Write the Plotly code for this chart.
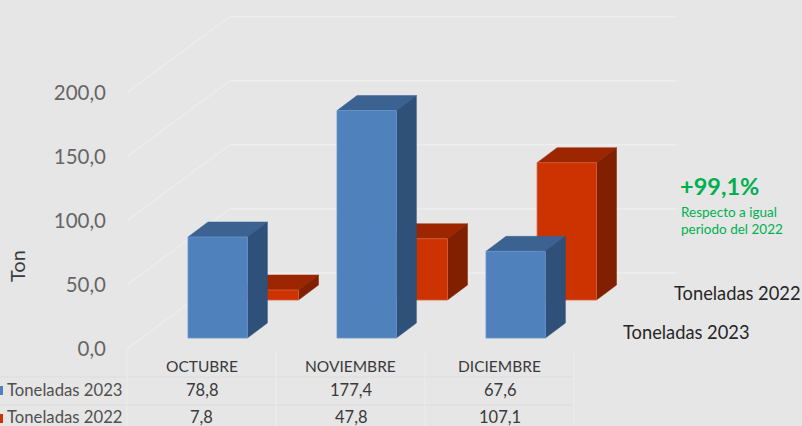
import plotly.graph_objects as go

months = ["OCTUBRE", "NOVIEMBRE", "DICIEMBRE"]
series_2023 = [78.8, 177.4, 67.6]
series_2022 = [7.8, 47.8, 107.1]
label_2023 = "Toneladas 2023"
label_2022 = "Toneladas 2022"
y_ticks = [0, 50, 100, 150, 200]
y_tick_text = ["0,0", "50,0", "100,0", "150,0", "200,0"]
table_2023 = ["78,8", "177,4", "67,6"]
table_2022 = ["7,8", "47,8", "107,1"]

W, H = 802, 426
PX = 1.282            # pixels per ton
FLOOR = 349           # pixel row of value 0 at the front of the floor
BG = "#e6e6e6"


def py(p):
    """pixel row -> value on the y axis"""
    return (FLOOR - p) / PX


def dv(p):
    return p / PX


col_center = [201.5, 350.5, 499.5]
BAR_W = 59.4
DX, DY = 20, 15

styles = {
    "2022": dict(front="#cc3300", top="#9c2600", side="#802000", edge="#d9603a", shift=67.3, floor=300),
    "2023": dict(front="#4f81bd", top="#3b6290", side="#2f5078", edge="#6a96cb", shift=16.2, floor=338),
}

fig = go.Figure()


def add_series(values, st, name):
    base = py(st["floor"])
    xs = [c + st["shift"] for c in col_center]
    for c, v in zip(xs, values):
        l, r = c - BAR_W / 2, c + BAR_W / 2
        t = base + v
        fig.add_trace(go.Scatter(x=[l, l + DX, r + DX, r, l],
                                 y=[t, t + dv(DY), t + dv(DY), t, t],
                                 fill="toself", fillcolor=st["top"], mode="lines",
                                 line=dict(color=st["top"], width=0.5), showlegend=False, hoverinfo="skip"))
        fig.add_trace(go.Scatter(x=[r, r + DX, r + DX, r, r],
                                 y=[t, t + dv(DY), base + dv(DY), base, t],
                                 fill="toself", fillcolor=st["side"], mode="lines",
                                 line=dict(color=st["side"], width=0.5), showlegend=False, hoverinfo="skip"))
        fig.add_trace(go.Scatter(x=[l, r, r, l, l], y=[base, base, t, t, base],
                                 fill="toself", fillcolor=st["front"], mode="lines", name=name,
                                 line=dict(color=st["edge"], width=0.8), showlegend=False))


add_series(series_2022, styles["2022"], label_2022)
add_series(series_2023, styles["2023"], label_2023)

shapes = []
BACK_DX, BACK_DY = 103, 76
WALL_L, WALL_R = 127, 677
for v in y_ticks:
    shapes.append(dict(type="line", layer="below", x0=WALL_L, x1=WALL_L + BACK_DX, y0=v, y1=v + dv(BACK_DY),
                       line=dict(color="#eeeeee", width=1.2)))
    shapes.append(dict(type="line", layer="below", x0=WALL_L + BACK_DX, x1=WALL_R,
                       y0=v + dv(BACK_DY), y1=v + dv(BACK_DY), line=dict(color="#eeeeee", width=1.5)))

# table rules
for p in (377, 405):
    shapes.append(dict(type="line", layer="below", x0=0, x1=574, y0=py(p), y1=py(p),
                       line=dict(color="#dcdcdc", width=1)))
for x in (127, 276, 425, 574):
    shapes.append(dict(type="line", layer="below", x0=x, x1=x, y0=py(350), y1=py(426),
                       line=dict(color="#ececec", width=1)))
# legend keys
shapes.append(dict(type="rect", x0=0, x1=3, y0=py(386), y1=py(395), line_width=0, fillcolor=styles["2023"]["front"]))
shapes.append(dict(type="rect", x0=0, x1=3, y0=py(414), y1=py(423), line_width=0, fillcolor=styles["2022"]["front"]))

ann = []


def txt(x, p, s, size, color, anchor="center", **kw):
    ann.append(dict(x=x, y=py(p), text=s, showarrow=False, xanchor=anchor, yanchor="middle",
                    font=dict(family="Lato", size=size, color=color), **kw))


TC = "#3a3a3a"
for c, m, a, b in zip(col_center, months, table_2023, table_2022):
    txt(c, 366, m, 15.5, TC)
    txt(c, 390, a, 16.5, TC)
    txt(c, 417, b, 16.5, TC)
txt(5, 390, label_2023, 16.7, "#505050", "left")
txt(5, 417, label_2022, 16.7, "#505050", "left")
txt(672, 293, label_2022, 18.3, "#262626", "left")
txt(621, 332, label_2023, 18.3, "#262626", "left")
txt(678, 186, "<b>+99,1%</b>", 23.5, "#00b050", "left")
txt(679, 212, "Respecto a igual", 13.5, "#00b050", "left")
txt(679, 229, "periodo del 2022", 13.5, "#00b050", "left")
txt(17, 266, "Ton", 20, "#3a3a3a", textangle=-90)

fig.update_layout(
    width=W, height=H, margin=dict(l=0, r=0, t=0, b=0), autosize=False,
    paper_bgcolor=BG, plot_bgcolor=BG, showlegend=False,
    shapes=shapes, annotations=ann,
    xaxis=dict(range=[0, W], visible=False, fixedrange=True),
    yaxis=dict(range=[py(H), py(0)], anchor="free", position=106 / W, side="left",
               tickmode="array", tickvals=y_ticks, ticktext=y_tick_text,
               tickfont=dict(family="Lato", size=20.5, color="#666666"),
               showgrid=False, zeroline=False, showline=False, ticks="", fixedrange=True),
)
fig.write_html("out.html", config=dict(displayModeBar=False),
               post_script="document.body.style.margin='0';document.documentElement.style.overflow='hidden';")
